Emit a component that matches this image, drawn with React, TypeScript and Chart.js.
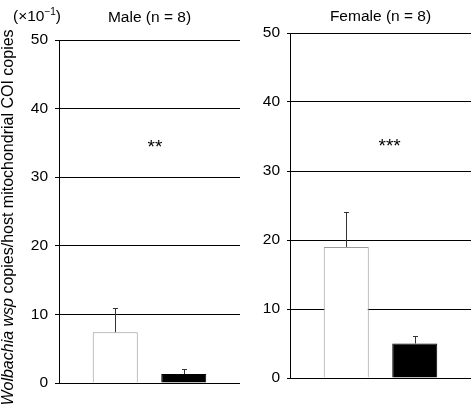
import React, { useEffect, useRef } from 'react';
import { Chart, registerables } from 'chart.js';

Chart.register(...registerables);

// ---- data ----
const panelTitles = ['Male (n = 8)', 'Female (n = 8)'];
const groupLabels = ['Male', 'Female'];
const whiteMeans = [7.4, 19.0];
const whiteUpper = [10.9, 24.1];
const blackMeans = [1.3, 5.0];
const blackUpper = [2.1, 6.1];
const significance = ['**', '***'];
const significanceLevel = [34.9, 34.2];
const yTicks = [0, 10, 20, 30, 40, 50];
const yTitleItalic = 'Wolbachia wsp';
const yTitleRest = ' copies/host mitochondrial COI copies';
const unitMain = '(\u00d710';
const unitExp = '\u22121';
const unitClose = ')';

// ---- styles / layout ----
const FONT = '"Liberation Sans", Arial, Helvetica, sans-serif';
const layouts = [
  { left: 0, width: 240, pad: { left: 9, right: 0, top: 40, bottom: 23 }, axisWidth: 50, tickLength: 4, tickPadding: 7, titleY: 21.5, yTitle: true },
  { left: 240, width: 232, pad: { left: 0, right: 1, top: 33, bottom: 28 }, axisWidth: 50, tickLength: 3, tickPadding: 7, titleY: 20.5, yTitle: false },
];

function Panel({ idx }: { idx: number }) {
  const ref = useRef<HTMLCanvasElement>(null);
  const L = layouts[idx];
  useEffect(() => {
    const uppers = [whiteUpper[idx], blackUpper[idx]];
    const means = [whiteMeans[idx], blackMeans[idx]];
    const overlay = {
      id: 'overlay' + idx,
      afterDatasetsDraw(chart: any) {
        const ctx = chart.ctx;
        const y = chart.scales.y;
        ctx.save();
        ctx.strokeStyle = '#333';
        ctx.lineWidth = 1;
        for (let i = 0; i < 2; i++) {
          const bar = chart.getDatasetMeta(i).data[0];
          const x = Math.round(bar.x) + 0.5;
          const yt = Math.round(y.getPixelForValue(uppers[i])) + 0.5;
          const yb = y.getPixelForValue(means[i]);
          ctx.beginPath();
          ctx.moveTo(x, yb);
          ctx.lineTo(x, yt);
          ctx.moveTo(x - 2.5, yt);
          ctx.lineTo(x + 2.5, yt);
          ctx.stroke();
        }
        ctx.restore();
      },
      afterDraw(chart: any) {
        const ctx = chart.ctx;
        const a = chart.chartArea;
        const y = chart.scales.y;
        const cx = (a.left + a.right) / 2;
        ctx.save();
        ctx.fillStyle = '#000';
        // panel title
        ctx.font = `15.5px ${FONT}`;
        ctx.textAlign = 'center';
        ctx.textBaseline = 'alphabetic';
        ctx.fillText(panelTitles[idx], cx, L.titleY);
        // significance
        ctx.font = `19px ${FONT}`;
        ctx.textAlign = 'left';
        const m = ctx.measureText(significance[idx]);
        const sy = y.getPixelForValue(significanceLevel[idx]);
        const off = (m.actualBoundingBoxAscent - m.actualBoundingBoxDescent) / 2;
        ctx.fillText(significance[idx], cx - 2, sy + off);
        if (L.yTitle) {
          // unit label
          ctx.font = `15.5px ${FONT}`;
          ctx.textAlign = 'left';
          let ux = 13;
          ctx.fillText(unitMain, ux, 20.5);
          ux += ctx.measureText(unitMain).width;
          ctx.font = `10px ${FONT}`;
          ctx.fillText(unitExp, ux, 14.5);
          ux += ctx.measureText(unitExp).width;
          ctx.font = `15.5px ${FONT}`;
          ctx.fillText(unitClose, ux, 20.5);
          // rotated y title
          ctx.translate(13, 217.5);
          ctx.rotate(-Math.PI / 2);
          ctx.font = `italic 16px ${FONT}`;
          const w1 = ctx.measureText(yTitleItalic).width;
          ctx.font = `16px ${FONT}`;
          const w2 = ctx.measureText(yTitleRest).width;
          const start = -(w1 + w2) / 2;
          ctx.font = `italic 16px ${FONT}`;
          ctx.fillText(yTitleItalic, start, 0);
          ctx.font = `16px ${FONT}`;
          ctx.fillText(yTitleRest, start + w1, 0);
        }
        ctx.restore();
      },
    };
    const chart = new Chart(ref.current as HTMLCanvasElement, {
      type: 'bar',
      data: {
        labels: [groupLabels[idx]],
        datasets: [
          { data: [whiteMeans[idx]], backgroundColor: '#ffffff', borderColor: '#9a9a9a', borderWidth: 1, borderSkipped: 'start', categoryPercentage: 0.757, barPercentage: 0.657 },
          { data: [blackMeans[idx]], backgroundColor: '#000000', borderColor: '#000000', borderWidth: 1, borderSkipped: 'start', categoryPercentage: 0.757, barPercentage: 0.657 },
        ],
      },
      options: {
        responsive: false,
        animation: false,
        layout: { padding: L.pad },
        plugins: { legend: { display: false }, tooltip: { enabled: false }, title: { display: false } },
        scales: {
          x: { display: false },
          y: {
            min: 0,
            max: 50,
            afterBuildTicks: (s: any) => { s.ticks = yTicks.map((v) => ({ value: v })); },
            afterFit: (s: any) => { s.width = L.axisWidth; },
            grid: { color: '#000', lineWidth: 1, drawTicks: true, tickLength: L.tickLength },
            border: { display: true, color: '#000', width: 1 },
            ticks: { color: '#000', padding: L.tickPadding, font: { family: FONT, size: 15.5 } },
          },
        },
      } as any,
      plugins: [overlay],
    });
    return () => chart.destroy();
  }, [idx]);
  return (
    <canvas
      ref={ref}
      width={L.width}
      height={406}
      style={{ position: 'absolute', left: L.left, top: 0, width: L.width, height: 406 }}
    />
  );
}

export default function App() {
  return (
    <div style={{ position: 'absolute', left: 0, top: 0, width: 472, height: 406, background: '#fff', overflow: 'hidden' }}>
      <Panel idx={0} />
      <Panel idx={1} />
    </div>
  );
}
